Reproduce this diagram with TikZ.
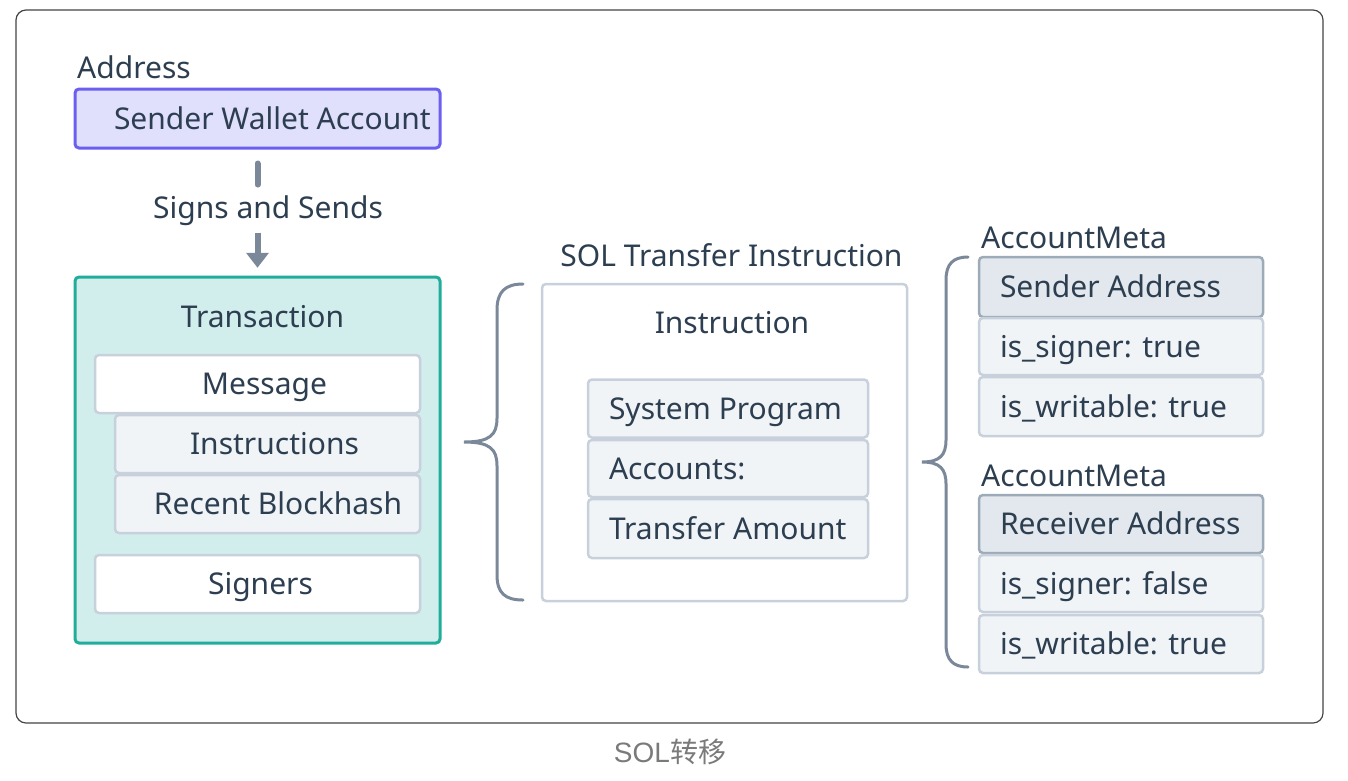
\documentclass[tikz,border=0pt]{standalone}
\usepackage{fontspec}
\setmainfont{Noto Sans}
\newfontfamily\capfont{Liberation Sans}
\newfontfamily\cjkfont{Noto Sans CJK SC}
\usetikzlibrary{arrows.meta}
\definecolor{ink}{HTML}{2C3E50}
\definecolor{lavfill}{HTML}{E0DFFC}
\definecolor{lavline}{HTML}{6A5FF0}
\definecolor{tealfill}{HTML}{D1EEEC}
\definecolor{tealline}{HTML}{20AE9B}
\definecolor{boxline}{HTML}{C8D1DB}
\definecolor{lightfill}{HTML}{F0F4F7}
\definecolor{hdrfill}{HTML}{E2E8ED}
\definecolor{hdrline}{HTML}{9DABB8}
\definecolor{connc}{HTML}{7A8899}
\definecolor{framec}{HTML}{444444}
\definecolor{capgray}{HTML}{7A7A7A}
\newcommand\lbtext[2]{\makebox[#1][l]{#2}}
\begin{document}
\begin{tikzpicture}[x=1pt,y=-1pt,
  font=\fontsize{30}{36}\selectfont, text=ink,
  txt/.style={inner sep=0pt, text height=21pt, text depth=0pt},
  box/.style={txt, draw=boxline, line width=2.5pt, rounded corners=4pt},
  lbox/.style={box, inner xsep=21pt},
  conn/.style={draw=connc, line width=6pt},
  bracec/.style={draw=connc, line width=3pt, line cap=round},
  frame/.style={draw=framec, line width=1.2pt, rounded corners=10pt}]
\useasboundingbox (0,0) rectangle (1348,780);
\draw[frame] (16,10) rectangle (1323,723);

% sender
\node[txt, anchor=west] (addr) at (77,68) {Address};
\node[box, fill=lavfill, draw=lavline, line width=3pt, inner xsep=39pt,
      minimum width=365pt, minimum height=59pt] (swa) at (257.5,118.5)
      {\lbtext{287pt}{Sender Wallet Account}};
\node[txt] (sas) at (268,208) {Signs and Sends};

% transaction
\node[box, fill=tealfill, draw=tealline, line width=3pt,
      minimum width=365pt, minimum height=366pt] (tx) at (257.5,460) {};
\node[txt] (txt) at (262.5,316.5) {Transaction};
\node[box, fill=white, minimum width=325pt, minimum height=58pt] (msg) at (257.5,384) {\hspace*{14pt}Message};
\node[box, fill=lightfill, minimum width=305pt, minimum height=58pt] (ins) at (267.5,444) {\hspace*{14pt}Instructions};
\node[box, fill=lightfill, minimum width=305pt, minimum height=58pt] (rbh) at (267.5,504) {\hspace*{21pt}Recent Blockhash};
\node[box, fill=white, minimum width=325pt, minimum height=58pt] (sgn) at (257.5,584) {\hspace*{6pt}Signers};

\draw[conn, line cap=round, shorten <=14pt, shorten >=12.75pt] (swa.south) -- (swa.south |- sas.north);
\draw[conn, shorten <=14pt, shorten >=7.75pt, -{Triangle[width=22pt,length=15pt]}] (swa.south |- sas.south) -- (tx.north);

% left brace
\draw[bracec] (523,284) .. controls (505,284) and (497,292) .. (497,310) -- (497,418)
  .. controls (497,435) and (490,442) .. (464,442)
  .. controls (490,442) and (497,449) .. (497,466) -- (497,575)
  .. controls (497,593) and (505,600) .. (523,600);

% instruction
\node[txt] (solt) at (731.5,256) {SOL Transfer Instruction};
\node[box, fill=white, minimum width=365pt, minimum height=317pt] (inst) at (724.5,442.5) {};
\node[txt] (instt) at (732,322.5) {Instruction};
\node[lbox, fill=lightfill, minimum width=280pt, minimum height=58pt] (sysp) at (728,408.5) {\lbtext{238pt}{System Program}};
\node[lbox, fill=lightfill, minimum width=280pt, minimum height=57pt] (accs) at (728,468.5) {\lbtext{238pt}{Accounts:}};
\node[lbox, fill=lightfill, minimum width=280pt, minimum height=59pt] (tam) at (728,528.5) {\lbtext{238pt}{Transfer Amount}};

% right brace
\draw[bracec] (968,257) .. controls (953,257) and (946,264) .. (946,280) -- (946,440)
  .. controls (946,455) and (940,462) .. (922,462)
  .. controls (940,462) and (946,469) .. (946,484) -- (946,644)
  .. controls (946,660) and (953,667) .. (968,667);

% account metas
\node[txt, anchor=west] (am1) at (981,237.5) {AccountMeta};
\node[lbox, fill=hdrfill, draw=hdrline, minimum width=284pt, minimum height=60pt] (snd) at (1121,287) {\lbtext{242pt}{Sender Address}};
\node[lbox, fill=lightfill, minimum width=284pt, minimum height=57pt] (s1) at (1121,346.5) {\lbtext{242pt}{is\_signer: true}};
\node[lbox, fill=lightfill, minimum width=284pt, minimum height=59pt] (w1) at (1121,406.5) {\lbtext{242pt}{is\_writable: true}};
\node[txt, anchor=west] (am2) at (981,476) {AccountMeta};
\node[lbox, fill=hdrfill, draw=hdrline, minimum width=284pt, minimum height=58pt] (rcv) at (1121,524) {\lbtext{242pt}{Receiver Address}};
\node[lbox, fill=lightfill, minimum width=284pt, minimum height=57pt] (s2) at (1121,583.5) {\lbtext{242pt}{is\_signer: false}};
\node[lbox, fill=lightfill, minimum width=284pt, minimum height=58pt] (w2) at (1121,644) {\lbtext{242pt}{is\_writable: true}};

% caption
\node[inner sep=0pt, font=\fontsize{28}{32}\selectfont\capfont, text=capgray] (cap) at (670,752) {SOL{\cjkfont 转移}};
\end{tikzpicture}
\end{document}
